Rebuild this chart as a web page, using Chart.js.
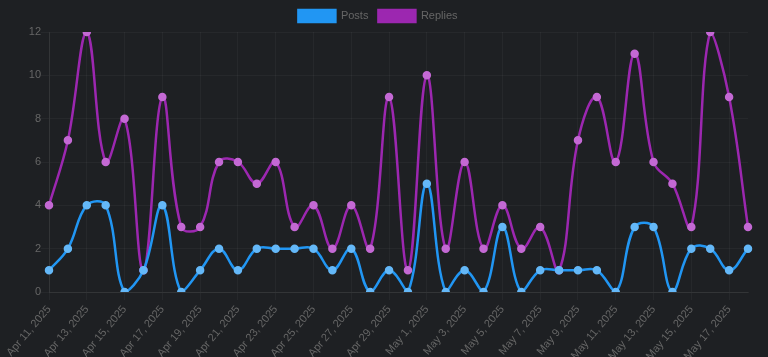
<!DOCTYPE html>
<html><head><meta charset="utf-8">
<script src="https://cdn.jsdelivr.net/npm/chart.js@4/dist/chart.umd.min.js"></script>
<style>html,body{margin:0;padding:0;background:#1e2023;}#wrap{width:768px;height:357px;}</style>
</head><body><div id="wrap"><canvas id="c"></canvas></div>
<script>
const labels = ["Apr 11, 2025","Apr 12, 2025","Apr 13, 2025","Apr 14, 2025","Apr 15, 2025","Apr 16, 2025","Apr 17, 2025","Apr 18, 2025","Apr 19, 2025","Apr 20, 2025","Apr 21, 2025","Apr 22, 2025","Apr 23, 2025","Apr 24, 2025","Apr 25, 2025","Apr 26, 2025","Apr 27, 2025","Apr 28, 2025","Apr 29, 2025","Apr 30, 2025","May 1, 2025","May 2, 2025","May 3, 2025","May 4, 2025","May 5, 2025","May 6, 2025","May 7, 2025","May 8, 2025","May 9, 2025","May 10, 2025","May 11, 2025","May 12, 2025","May 13, 2025","May 14, 2025","May 15, 2025","May 16, 2025","May 17, 2025","May 18, 2025"];
const posts = [1,2,4,4,0,1,4,0,1,2,1,2,2,2,2,1,2,0,1,0,5,0,1,0,3,0,1,1,1,1,0,3,3,0,2,2,1,2];
const replies = [4,7,12,6,8,1,9,3,3,6,6,5,6,3,4,2,4,2,9,1,10,2,6,2,4,2,3,1,7,9,6,11,6,5,3,12,9,3];

const FONT = 'Liberation Sans, Arial, sans-serif';
new Chart(document.getElementById('c'), {
  type: 'line',
  data: {
    labels: labels,
    datasets: [
      {label:'Posts', data: posts, borderColor:'#2196F3', backgroundColor:'#2196F3', pointBackgroundColor:'#64b8f8', pointBorderColor:'#64b8f8', borderWidth:2.5, pointRadius:3, tension:0.4},
      {label:'Replies', data: replies, borderColor:'#9C27B0', backgroundColor:'#9C27B0', pointBackgroundColor:'#c469d4', pointBorderColor:'#c469d4', borderWidth:2.5, pointRadius:3, tension:0.4}
    ]
  },
  options: {
    responsive: true,
    maintainAspectRatio: false,
    animation: false,
    layout: {padding: {left: 8, right: 20, top: 0, bottom: 0}},
    plugins: {
      legend: {labels: {color:'#666', boxWidth:37, boxHeight:12, padding:10, font:{size:11, family:FONT}}},
      tooltip: {enabled:false}
    },
    scales: {
      x: {
        afterFit: s => { s.height = 65; },
        grid: {color:'rgba(255,255,255,0.04)'},
        border: {color:'rgba(255,255,255,0.06)'},
        ticks: {color:'#666', maxRotation:50, minRotation:50, autoSkip:true, font:{size:11, family:FONT}}
      },
      y: {
        afterFit: s => { s.width = 41; },
        min: 0, max: 12,
        grid: {color:'rgba(255,255,255,0.04)'},
        border: {color:'rgba(255,255,255,0.06)'},
        ticks: {color:'#666', stepSize:2, padding:0, font:{size:11, family:FONT}}
      }
    }
  }
});
</script></body></html>
